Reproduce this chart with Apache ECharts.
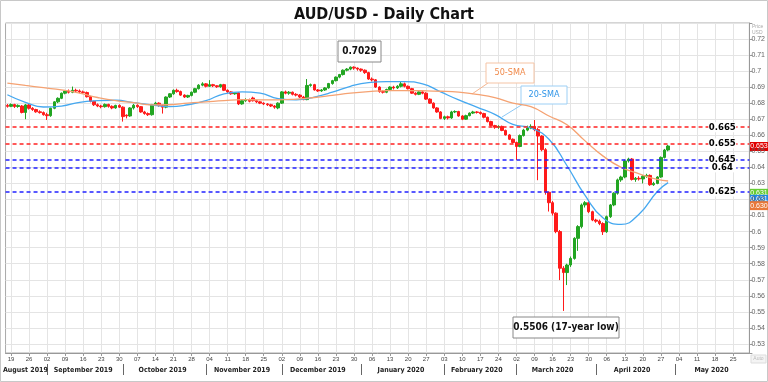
<!DOCTYPE html>
<html><head><meta charset="utf-8">
<script src="https://cdn.jsdelivr.net/npm/echarts@6/dist/echarts.min.js"></script>
<style>html,body{margin:0;padding:0;background:#fff}#c{width:768px;height:382px}</style>
</head><body><div id="c"></div>
<script>
// ---- data (daily AUD/USD, from 2019-08-16) ----
const opens = [
0.6786,0.6780,0.6791,0.6779,0.6782,0.6742,0.6789,0.6768,0.6760,0.6746,
0.6741,0.6728,0.6722,0.6768,0.6808,0.6830,0.6862,0.6875,0.6868,0.6880,
0.6876,0.6870,0.6866,0.6840,0.6811,0.6790,0.6782,0.6778,0.6792,0.6780,
0.6770,0.6786,0.6775,0.6725,0.6720,0.6770,0.6787,0.6778,0.6745,0.6735,
0.6728,0.6790,0.6800,0.6785,0.6775,0.6838,0.6858,0.6880,0.6872,0.6850,
0.6838,0.6848,0.6868,0.6890,0.6912,0.6920,0.6905,0.6915,0.6908,0.6902,
0.6915,0.6880,0.6870,0.6858,0.6864,0.6795,0.6815,0.6822,0.6832,0.6815,
0.6808,0.6800,0.6795,0.6790,0.6782,0.6770,0.6800,0.6870,0.6862,0.6868,
0.6855,0.6850,0.6838,0.6822,0.6910,0.6915,0.6882,0.6876,0.6882,0.6895,
0.6922,0.6940,0.6962,0.6978,0.7005,0.7012,0.7024,0.7018,0.7012,0.7005,
0.6990,0.6950,0.6945,0.6900,0.6872,0.6868,0.6885,0.6900,0.6895,0.6905,
0.6920,0.6905,0.6890,0.6862,0.6855,0.6870,0.6862,0.6825,0.6800,0.6770,
0.6745,0.6705,0.6715,0.6708,0.6745,0.6748,0.6720,0.6700,0.6722,0.6738,
0.6745,0.6742,0.6735,0.6712,0.6685,0.6660,0.6650,0.6655,0.6630,0.6602,
0.6575,0.6555,0.6530,0.6598,0.6632,0.6645,0.6655,0.6635,0.6595,0.6510,
0.6245,0.6180,0.6115,0.6000,0.5772,0.5745,0.5792,0.5833,0.5958,0.6031,
0.6166,0.6180,0.6124,0.6072,0.6065,0.6050,0.5999,0.6093,0.6166,0.6239,
0.6322,0.6340,0.6440,0.6452,0.6325,0.6332,0.6328,0.6345,0.6350,0.6292,
0.6300,0.6340,0.6462,0.6508];
const closes = [
0.6780,0.6791,0.6779,0.6786,0.6742,0.6789,0.6768,0.6760,0.6746,0.6741,
0.6728,0.6722,0.6768,0.6808,0.6830,0.6862,0.6875,0.6868,0.6880,0.6876,
0.6870,0.6866,0.6840,0.6811,0.6790,0.6782,0.6778,0.6792,0.6780,0.6770,
0.6786,0.6775,0.6716,0.6720,0.6770,0.6787,0.6778,0.6745,0.6735,0.6728,
0.6790,0.6800,0.6785,0.6775,0.6838,0.6858,0.6880,0.6872,0.6850,0.6838,
0.6848,0.6868,0.6890,0.6912,0.6920,0.6905,0.6915,0.6908,0.6902,0.6915,
0.6880,0.6870,0.6858,0.6864,0.6795,0.6815,0.6822,0.6812,0.6815,0.6808,
0.6800,0.6795,0.6790,0.6782,0.6775,0.6800,0.6870,0.6862,0.6868,0.6855,
0.6850,0.6838,0.6822,0.6910,0.6915,0.6882,0.6876,0.6882,0.6895,0.6922,
0.6940,0.6962,0.6978,0.7005,0.7012,0.7024,0.7018,0.7012,0.7005,0.6990,
0.6950,0.6945,0.6900,0.6872,0.6868,0.6885,0.6900,0.6895,0.6905,0.6920,
0.6905,0.6890,0.6862,0.6855,0.6870,0.6862,0.6825,0.6800,0.6770,0.6745,
0.6705,0.6715,0.6708,0.6745,0.6748,0.6720,0.6700,0.6722,0.6738,0.6745,
0.6742,0.6735,0.6712,0.6685,0.6660,0.6650,0.6655,0.6630,0.6602,0.6575,
0.6555,0.6530,0.6598,0.6632,0.6645,0.6655,0.6635,0.6595,0.6510,0.6245,
0.6180,0.6115,0.6000,0.5772,0.5745,0.5792,0.5833,0.5958,0.6031,0.6166,
0.6180,0.6124,0.6072,0.6065,0.6050,0.5999,0.6093,0.6166,0.6239,0.6322,
0.6340,0.6440,0.6452,0.6325,0.6332,0.6328,0.6345,0.6350,0.6292,0.6300,
0.6340,0.6462,0.6508,0.6533];
const lows = [
0.6772,0.6775,0.6770,0.6771,0.6736,0.6700,0.6760,0.6752,0.6740,0.6735,
0.6722,0.6695,0.6715,0.6762,0.6800,0.6825,0.6855,0.6860,0.6862,0.6868,
0.6862,0.6858,0.6835,0.6805,0.6782,0.6775,0.6768,0.6772,0.6772,0.6762,
0.6765,0.6770,0.6685,0.6705,0.6715,0.6760,0.6770,0.6740,0.6728,0.6720,
0.6722,0.6785,0.6778,0.6735,0.6768,0.6832,0.6852,0.6865,0.6845,0.6832,
0.6832,0.6842,0.6862,0.6885,0.6905,0.6898,0.6900,0.6900,0.6895,0.6896,
0.6875,0.6864,0.6852,0.6852,0.6788,0.6790,0.6808,0.6805,0.6810,0.6800,
0.6794,0.6788,0.6782,0.6776,0.6765,0.6762,0.6795,0.6855,0.6852,0.6848,
0.6842,0.6832,0.6818,0.6818,0.6902,0.6878,0.6870,0.6870,0.6876,0.6890,
0.6915,0.6935,0.6955,0.6972,0.6998,0.7005,0.7008,0.7002,0.6995,0.6982,
0.6945,0.6935,0.6895,0.6865,0.6860,0.6862,0.6878,0.6885,0.6888,0.6898,
0.6898,0.6885,0.6858,0.6848,0.6850,0.6855,0.6820,0.6795,0.6765,0.6740,
0.6700,0.6695,0.6698,0.6702,0.6738,0.6715,0.6694,0.6696,0.6718,0.6732,
0.6735,0.6728,0.6705,0.6680,0.6654,0.6640,0.6640,0.6625,0.6598,0.6570,
0.6548,0.6446,0.6525,0.6592,0.6625,0.6638,0.6625,0.6320,0.6500,0.6230,
0.6125,0.6100,0.5990,0.5698,0.5506,0.5667,0.5780,0.5825,0.5880,0.6020,
0.6150,0.6115,0.6065,0.6055,0.6040,0.5979,0.5992,0.6085,0.6158,0.6230,
0.6310,0.6332,0.6430,0.6318,0.6310,0.6318,0.6300,0.6335,0.6285,0.6285,
0.6295,0.6335,0.6455,0.6500];
const highs = [
0.6795,0.6798,0.6796,0.6792,0.6788,0.6795,0.6795,0.6775,0.6765,0.6755,
0.6748,0.6740,0.6772,0.6812,0.6836,0.6866,0.6882,0.6885,0.6903,0.6890,
0.6885,0.6878,0.6872,0.6845,0.6815,0.6798,0.6790,0.6798,0.6796,0.6786,
0.6790,0.6792,0.6780,0.6730,0.6775,0.6795,0.6792,0.6782,0.6752,0.6742,
0.6795,0.6808,0.6805,0.6790,0.6842,0.6862,0.6885,0.6890,0.6878,0.6855,
0.6852,0.6872,0.6895,0.6918,0.6930,0.6925,0.6943,0.6920,0.6912,0.6920,
0.6920,0.6885,0.6874,0.6868,0.6868,0.6820,0.6830,0.6828,0.6840,0.6820,
0.6812,0.6805,0.6800,0.6796,0.6788,0.6805,0.6875,0.6878,0.6875,0.6872,
0.6862,0.6856,0.6845,0.6950,0.6922,0.6920,0.6888,0.6888,0.6900,0.6926,
0.6945,0.6966,0.6982,0.7010,0.7018,0.7028,0.7029,0.7022,0.7016,0.7010,
0.6995,0.6960,0.6950,0.6905,0.6880,0.6890,0.6905,0.6908,0.6912,0.6935,
0.6928,0.6910,0.6895,0.6868,0.6875,0.6878,0.6868,0.6830,0.6805,0.6775,
0.6750,0.6722,0.6722,0.6752,0.6755,0.6752,0.6725,0.6728,0.6742,0.6752,
0.6750,0.6748,0.6740,0.6716,0.6690,0.6665,0.6662,0.6660,0.6635,0.6608,
0.6580,0.6560,0.6605,0.6640,0.6660,0.6668,0.6695,0.6645,0.6600,0.6520,
0.6250,0.6190,0.6120,0.6010,0.5785,0.5800,0.5845,0.5965,0.6040,0.6175,
0.6190,0.6188,0.6130,0.6080,0.6075,0.6058,0.6100,0.6172,0.6245,0.6330,
0.6348,0.6448,0.6460,0.6458,0.6340,0.6345,0.6352,0.6360,0.6356,0.6310,
0.6345,0.6468,0.6515,0.6540];
// moving averages at every 5th trading day (index into dates)
const smaIdx = [0,5,10,15,20,25,30,35,40,45,50,55,60,65,70,75,80,85,90,95,100,105,110,115,120,125,130,135,140,145,150,155,160,165,170,175,180,183];
const sma20 = [0.6852,0.6805,0.6776,0.6782,0.6805,0.6815,0.6818,0.6803,0.6789,0.6778,0.6790,0.6815,0.6858,0.6870,0.6862,0.6828,0.6820,0.6838,0.6868,0.6905,0.6928,0.6934,0.6934,0.6920,0.6870,0.6820,0.6775,0.6730,0.6668,0.6645,0.6575,0.6410,0.6225,0.6085,0.6045,0.6110,0.6250,0.6305];
const sma50 = [0.6925,0.6910,0.6896,0.6882,0.6862,0.6835,0.6815,0.6803,0.6789,0.6790,0.6800,0.6808,0.6816,0.6822,0.6820,0.6820,0.6825,0.6835,0.6848,0.6862,0.6872,0.6878,0.6878,0.6877,0.6874,0.6868,0.6855,0.6835,0.6800,0.6778,0.6720,0.6665,0.6565,0.6470,0.6400,0.6360,0.6325,0.6315];
const levels = [0.665, 0.655, 0.645, 0.64, 0.625];
const levelLabels = ['0.665', '0.655', '0.645', '0.64', '0.625'];
const levelColors = ['#ff2222', '#ff2222', '#2222ff', '#2222ff', '#2222ff'];
const monthLabels = ['August 2019','September 2019','October 2019','November 2019','December 2019','January 2020','February 2020','March 2020','April 2020','May 2020'];
const lastPrice = 0.653, tagValues = ['0.631','0.631','0.630'];

// weekday categories 2019-08-16 .. 2020-05-29
const dates = [];
for (let t = Date.UTC(2019,7,16); t <= Date.UTC(2020,4,29); t += 86400000) {
  const d = new Date(t), w = d.getUTCDay();
  if (w !== 0 && w !== 6) dates.push(d.toISOString().slice(0,10));
}
const dow = v => new Date(v + 'T00:00:00Z').getUTCDay();
const groups = [];
dates.forEach((d,i) => {
  const k = d.slice(0,7);
  if (!groups.length || groups[groups.length-1].k !== k) groups.push({k, s:i, e:i});
  else groups[groups.length-1].e = i;
});
const monthStarts = new Set(), monthMids = {};
groups.forEach((g,gi) => { if (gi > 0) monthStarts.add(g.s); monthMids[Math.floor((g.s+g.e)/2)] = monthLabels[gi]; });

const candles = opens.map((o,i) => [o, closes[i], lows[i], highs[i]]);
const GREEN = '#22a522', RED = '#ff1a1a';
const FONT = 'Liberation Sans, Arial, sans-serif';
const BOLD = 'DejaVu Sans Condensed, DejaVu Sans, sans-serif';

const chart = echarts.init(document.getElementById('c'), null, {renderer:'canvas'});
chart.setOption({
  animation: false,
  backgroundColor: '#fff',
  title: { text: 'AUD/USD - Daily Chart', left: 'center', top: 2,
    textStyle: { fontSize: 16, fontWeight: 'bold', color: '#111', fontFamily: BOLD } },
  grid: { left: 3.9, right: 18.4, top: 23, bottom: 29, show: true, borderColor: '#aaa', borderWidth: 1 },
  xAxis: [{
    type: 'category', data: dates, boundaryGap: true,
    axisLine: { show: true, lineStyle: { color: '#999' } },
    axisTick: { show: true, alignWithLabel: true, length: 3, interval: (i,v) => dow(v) === 1, lineStyle: { color: '#999' } },
    axisLabel: { interval: (i,v) => dow(v) === 1, formatter: v => v.slice(8,10), fontSize: 6, color: '#444', margin: 3, fontFamily: FONT },
    splitLine: { show: true, alignWithLabel: true, interval: (i,v) => dow(v) === 1, lineStyle: { color: '#e4e4e4' } }
  }, {
    type: 'category', data: dates, boundaryGap: true, position: 'bottom', offset: 11,
    axisLine: { show: false },
    axisTick: { show: true, alignWithLabel: true, length: 11, interval: i => monthStarts.has(i), lineStyle: { color: '#666' } },
    axisLabel: { interval: i => monthMids[i] !== undefined, formatter: (v,i) => monthMids[i] || '', fontSize: 7, fontWeight: 'bold', color: '#222', margin: 3, fontFamily: BOLD },
    splitLine: { show: false }
  }],
  yAxis: {
    type: 'value', position: 'right', min: 0.5244, max: 0.7299, scale: true,
    minInterval: 0.01, maxInterval: 0.01, splitNumber: 20,
    axisLine: { show: true, lineStyle: { color: '#999' } },
    axisTick: { show: true, length: 3, lineStyle: { color: '#999' } },
    axisLabel: { fontSize: 7, color: '#666', margin: 2, fontFamily: FONT,
      formatter: v => Math.abs(v*100 - Math.round(v*100)) > 1e-6 ? '' : String(+v.toFixed(2)) },
    splitLine: { show: true, lineStyle: { color: '#e4e4e4' } }
  },
  series: [{
    type: 'candlestick', data: candles, barWidth: 3,
    itemStyle: { color: GREEN, color0: RED, borderColor: GREEN, borderColor0: RED, borderWidth: 1 },
    markLine: { silent: true, precision: 4, symbol: ['none','none'], label: { show: false },
      lineStyle: { type: [4,3], width: 1.5 },
      data: levels.map((v,k) => ({ yAxis: v, lineStyle: { color: levelColors[k], type: [4,3], width: 1.5 } })) },
    markPoint: { silent: true,
      data: levels.map((v,k) => ({ coord: [198, v], symbol: 'rect', symbolSize: [28, 10],
        itemStyle: { color: '#fff' },
        label: { show: true, formatter: levelLabels[k], color: '#000', fontWeight: 'bold', fontSize: 9.5, fontFamily: BOLD } })) },
    z: 3
  }, {
    type: 'line', name: '20-SMA', data: smaIdx.map((ix,k) => [ix, sma20[k]]), smooth: true, showSymbol: false,
    lineStyle: { color: '#45a8f0', width: 1.3 }, z: 4
  }, {
    type: 'line', name: '50-SMA', data: smaIdx.map((ix,k) => [ix, sma50[k]]), smooth: true, showSymbol: false,
    lineStyle: { color: '#f5a272', width: 1.3 }, z: 4
  }]
});

const yOf = v => chart.convertToPixel({gridIndex:0}, [0, v])[1];
function tag(y, text, color, tcolor) {
  return { type: 'group', children: [
    { type: 'rect', shape: { x: 750, y: y - 4.5, width: 18, height: 9 }, style: { fill: color } },
    { type: 'text', style: { x: 759, y: y, text: text, fill: tcolor || '#fff', fontSize: 7, fontFamily: FONT, align: 'center', verticalAlign: 'middle' } }
  ]};
}
function box(x, y, w, h, text, stroke, tcolor, fs, bold) {
  return { type: 'group', children: [
    { type: 'rect', shape: { x: x, y: y, width: w, height: h }, style: { fill: '#fff', stroke: stroke, lineWidth: 1 } },
    { type: 'text', style: { x: x + w/2, y: y + h/2, text: text, fill: tcolor, fontSize: fs, fontWeight: bold ? 'bold' : 'normal', fontFamily: BOLD, align: 'center', verticalAlign: 'middle' } }
  ]};
}
const y631 = yOf(0.631);
chart.setOption({ graphic: [
  { type: 'rect', shape: { x: 0.5, y: 0.5, width: 767, height: 381 }, style: { fill: 'none', stroke: '#c8c8c8', lineWidth: 1 } },
  { type: 'text', style: { x: 752, y: 24, text: 'Price\nUSD', fill: '#aaa', fontSize: 5, fontFamily: FONT, lineHeight: 6 } },
  { type: 'rect', shape: { x: 751, y: 355, width: 15, height: 8 }, style: { fill: '#f4f4f4', stroke: '#ddd' } },
  { type: 'text', style: { x: 758.5, y: 359, text: 'Auto', fill: '#bbb', fontSize: 5, fontFamily: FONT, align: 'center', verticalAlign: 'middle' } },
  tag(yOf(lastPrice), '0.653', '#e00000', '#fff'),
  tag(y631 + 11.5, tagValues[0], '#66cc33', '#fff'),
  tag(y631 + 17.5, tagValues[1], '#1e88e5', '#fff'),
  tag(y631 + 23.8, tagValues[2], '#e8783a', '#fff'),
  box(338, 41, 43, 21, '0.7029', '#888', '#111', 10, true),
  box(513, 317, 106, 21, '0.5506 (17-year low)', '#888', '#111', 10, true),
  { type: 'line', shape: { x1: 488, y1: 83, x2: 472, y2: 94 }, style: { stroke: '#f5b58f', lineWidth: 1 } },
  box(486, 63, 48, 20, '50-SMA', '#f5c4a5', '#f08a4b', 9, false),
  { type: 'line', shape: { x1: 523, y1: 104, x2: 502, y2: 117 }, style: { stroke: '#8cc8f5', lineWidth: 1 } },
  box(521, 86, 46, 18, '20-SMA', '#9ccff5', '#2f95e8', 9, false)
]});
</script></body></html>
